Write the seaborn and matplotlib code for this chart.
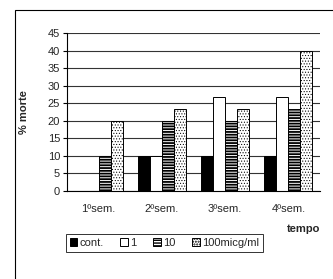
import numpy as np
import pandas as pd
import seaborn as sns
import matplotlib
matplotlib.use('Agg')
import matplotlib.pyplot as plt
from matplotlib.patches import Patch, Rectangle

# data
semanas = ['1ºsem.', '2ºsem.', '3ºsem.', '4ºsem.']
doses = ['cont.', '1', '10', '100micg/ml']
cont = [0, 10, 10, 10]
dose_1 = [0, 10, 26.7, 26.7]
dose_10 = [10, 20, 20, 23.3]
dose_100 = [20, 23.3, 23.3, 40]

df = pd.DataFrame({
    'semana': semanas * 4,
    'dose': [d for d in doses for _ in semanas],
    'morte': cont + dose_1 + dose_10 + dose_100,
})

sns.set_style('white')
plt.rcParams['font.family'] = ['Liberation Sans', 'DejaVu Sans']

fig = plt.figure(figsize=(3.33, 2.79), dpi=100)
ax = fig.add_axes([0.201, 0.3154, 0.76, 0.5663])

face = ['black', 'white', 'white', 'white']
hatches = ['', '', '------', '......']
hatch_lw = [1.0, 1.0, 1.3, 0.45]


def style_hatch(patch, i):
    patch.set_hatch(hatches[i])
    if hasattr(patch, 'set_hatch_linewidth'):
        patch.set_hatch_linewidth(hatch_lw[i])
    else:
        patch._hatch_linewidth = hatch_lw[i]


sns.barplot(data=df, x='semana', y='morte', hue='dose', hue_order=doses,
            order=semanas, palette=face, width=0.76, gap=0,
            edgecolor='black', linewidth=0.7, legend=False, ax=ax)
for i, bars in enumerate(ax.containers):
    for bar in bars:
        style_hatch(bar, i)

ax.set_ylim(0, 45)
ax.set_yticks(np.arange(0, 46, 5))
ax.set_xlim(-0.5, 3.5)
ax.yaxis.grid(True, color='#333333', linewidth=0.8)
ax.set_axisbelow(True)
ax.set_xticks(np.arange(-0.5, 4, 1), minor=True)
ax.tick_params(axis='x', which='major', length=0, labelsize=8, pad=9)
ax.tick_params(axis='x', which='minor', length=3, width=0.8, direction='out', color='black')
ax.tick_params(axis='y', length=3, width=0.8, direction='out', color='black', labelsize=8, pad=2, left=True)
for s in ['top', 'right']:
    ax.spines[s].set_visible(False)
for s in ['left', 'bottom']:
    ax.spines[s].set_color('black')
    ax.spines[s].set_linewidth(0.8)
ax.set_xlabel('')
ax.set_ylabel('% morte', fontsize=8, fontweight='bold')
ax.yaxis.set_label_coords(-0.15, 0.5)

fig.text(0.962, 0.179, 'tempo', fontsize=8, fontweight='bold', ha='right', va='center')

handles = []
for i, f in enumerate(face):
    p = Patch(facecolor=f, edgecolor='black', linewidth=0.7)
    style_hatch(p, i)
    handles.append(p)
fig.legend(handles, doses, loc='center', bbox_to_anchor=(0.494, 0.129), ncol=4,
           fontsize=8, frameon=True, fancybox=False, edgecolor='black',
           handlelength=0.65, handleheight=0.65, handletextpad=0.25, columnspacing=1.5,
           borderpad=0.35, borderaxespad=0)
fig.legends[0].get_frame().set_linewidth(0.7)

# outer chart frame
fig.patches.append(Rectangle((15 / 333, -0.1), 1.2, 1 - 10 / 279 + 0.1,
                             transform=fig.transFigure, fill=False,
                             edgecolor='black', linewidth=0.8, figure=fig))

fig.savefig('out.png', dpi=100)
